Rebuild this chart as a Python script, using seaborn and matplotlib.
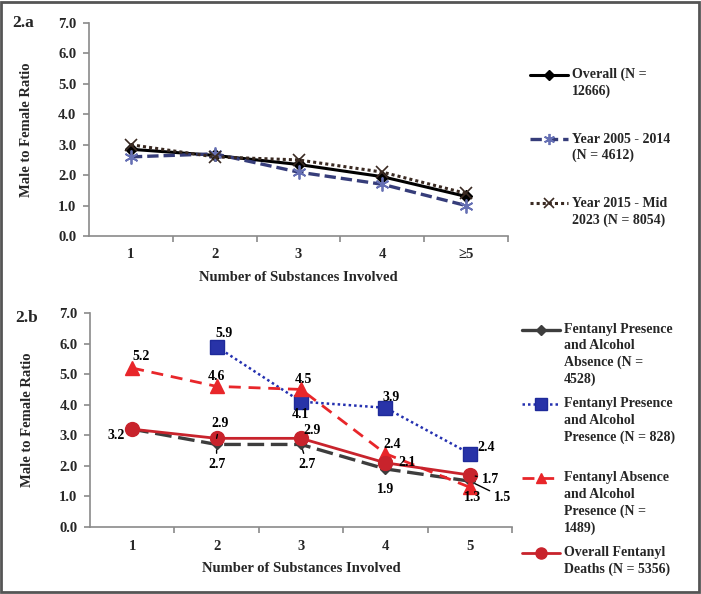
import matplotlib
matplotlib.use("Agg")
import matplotlib.pyplot as plt
import seaborn as sns
import numpy as np
import pandas as pd
from matplotlib.legend_handler import HandlerLine2D

sns.set_theme(style="white")
plt.rcParams['font.family'] = ['Liberation Serif', 'DejaVu Serif']
plt.rcParams['font.weight'] = 'bold'
plt.rcParams['axes.labelweight'] = 'bold'

# ---------------- data ----------------
top_categories = ["1", "2", "3", "4", "\u22655"]
bottom_categories = ["1", "2", "3", "4", "5"]

overall = [2.85, 2.65, 2.35, 1.95, 1.3]
years_2005_2014 = [2.6, 2.7, 2.1, 1.7, 1.0]
years_2015_2023 = [3.0, 2.6, 2.5, 2.1, 1.4]

fent_pres_alc_abs = [3.2, 2.7, 2.7, 1.9, 1.5]
fent_pres_alc_pres = [np.nan, 5.9, 4.1, 3.9, 2.4]
fent_abs_alc_pres = [5.2, 4.6, 4.5, 2.4, 1.3]
overall_fentanyl = [3.2, 2.9, 2.9, 2.1, 1.7]

top_labels = ["Overall (N =\n12666)",
              "Year 2005 - 2014\n(N = 4612)",
              "Year 2015 - Mid\n2023 (N = 8054)"]
bottom_labels = ["Fentanyl Presence\nand Alcohol\nAbsence (N =\n4528)",
                 "Fentanyl Presence\nand Alcohol\nPresence (N = 828)\n",
                 "Fentanyl Absence\nand Alcohol\nPresence (N =\n1489)",
                 "Overall Fentanyl\nDeaths (N = 5356)"]
y_ticks = [0, 1, 2, 3, 4, 5, 6, 7]

W, H = 701, 594
fig = plt.figure(figsize=(W / 100, H / 100), dpi=100)
fig.patch.set_facecolor("white")


def px_axes(left, top, right, bottom):
    return fig.add_axes([left / W, 1 - bottom / H, (right - left) / W, (bottom - top) / H])


ax1 = px_axes(89, 23, 508, 236)
ax2 = px_axes(90, 313, 512, 527)


def line(ax, vals, label, color, ls, lw, marker, ms, mec=None, mew=1.0, mfc=None):
    pos = np.arange(len(vals))
    df = pd.DataFrame({"pos": pos, "val": vals}).dropna()
    sns.lineplot(data=df, x="pos", y="val", ax=ax, color=color, linestyle=ls, lw=lw,
                 marker=marker, markersize=ms, markeredgecolor=mec or color,
                 markerfacecolor=mfc or color, markeredgewidth=mew,
                 estimator=None, errorbar=None, label=label, legend=False, zorder=3)


# top panel
line(ax1, overall, top_labels[0], "black", "-", 2.2, "D", 6.5)
line(ax1, years_2005_2014, top_labels[1], "#363d7a", (0, (3.4, 1.5)), 2.4, (6, 2, 0), 10,
     mec="#6670b4", mew=1.3)
line(ax1, years_2015_2023, top_labels[2], "#3a2a22", (0, (1, 1)), 2.2, "x", 8, mew=1.2)

# bottom panel
line(ax2, fent_pres_alc_abs, bottom_labels[0], "#3d3d3d", (0, (5, 2)), 2.4, "D", 5)
line(ax2, fent_pres_alc_pres, bottom_labels[1], "#2430b0", (0, (1, 1.2)), 1.8, "s", 10,
     mec="#1e2a9a", mfc="#2833a8")
line(ax2, fent_abs_alc_pres, bottom_labels[2], "#e8262a", (0, (4.3, 2.8)), 2.0, "^", 10)
line(ax2, overall_fentanyl, bottom_labels[3], "#c8232c", "-", 2.0, "o", 10)

GRAY = "#8a8a8a"
for ax, cats in ((ax1, top_categories), (ax2, bottom_categories)):
    ax.set_xlim(-0.5, len(cats) - 0.5)
    ax.set_ylim(0, 7)
    ax.set_yticks(y_ticks)
    ax.set_yticklabels([f"{v:.1f}" for v in y_ticks])
    ax.set_xticks(np.arange(len(cats)) + 0.5)
    ax.set_xticklabels([])
    ax.set_xticks(np.arange(len(cats)), minor=True)
    ax.set_xticklabels(cats, minor=True)
    for s in ("top", "right"):
        ax.spines[s].set_visible(False)
    for s in ("left", "bottom"):
        ax.spines[s].set_color(GRAY)
        ax.spines[s].set_linewidth(1.2)
    ax.tick_params(axis="y", which="major", direction="out", length=4, width=1.2,
                   color=GRAY, left=True, pad=5, labelsize=10.5)
    ax.tick_params(axis="x", which="major", direction="out", length=4, width=1.2,
                   color=GRAY, bottom=True)
    ax.tick_params(axis="x", which="minor", length=0, pad=9, labelsize=10.5)
    for t in ax.get_yticklabels() + ax.get_xticklabels(minor=True):
        t.set_fontweight("bold")
    ax.set_ylabel("Male to Female Ratio", fontsize=10.5, fontweight="bold", labelpad=18)
    ax.set_xlabel("Number of Substances Involved", fontsize=10.5, fontweight="bold", labelpad=7)
    ax.grid(False)
    ax.set_facecolor("white")


class TopAlignHandler(HandlerLine2D):
    def __init__(self, shift, marker_size, solid=False, **kw):
        super().__init__(**kw)
        self.shift = shift
        self.marker_size = marker_size
        self.solid = solid

    def create_artists(self, legend, orig_handle, xdescent, ydescent, width, height, fontsize, trans):
        arts = super().create_artists(legend, orig_handle, xdescent, ydescent, width, height,
                                      fontsize, trans)
        for a in arts:
            a.set_ydata(np.asarray(a.get_ydata()) + self.shift)
            a.set_markersize(self.marker_size)
            if self.solid:
                a.set_linestyle("-")
        return arts


LS = 12.0  # line spacing in points for legend text


def make_legend(ax, labels, sizes, solids, x, y, labelspacing):
    handles, labs = ax.get_legend_handles_labels()
    hm = {}
    for h, lab, ms, so in zip(handles, labs, sizes, solids):
        n = lab.count("\n") + 1
        hm[h] = TopAlignHandler((n - 1) / 2 * LS, ms, so)
    leg = ax.legend(handles, labs, handler_map=hm, loc="upper left",
                    bbox_to_anchor=(x / W, 1 - y / H), bbox_transform=fig.transFigure,
                    frameon=False, borderpad=0, borderaxespad=0, handlelength=2.75,
                    handletextpad=0.25, labelspacing=labelspacing,
                    prop={"family": "Liberation Serif", "weight": "bold", "size": 10})
    for t in leg.get_texts():
        t.set_linespacing(1.34)
    return leg


make_legend(ax1, top_labels, [5, 8, 7], [False, False, False], 530, 68, 2.45)
make_legend(ax2, bottom_labels, [5, 8, 7, 8], [True, False, False, False], 522, 323, 0.8)

# value labels for the bottom panel
lead = dict(arrowstyle="-", color="black", lw=1.0, shrinkA=1, shrinkB=4)
ann = [
    (overall_fentanyl, 0, -7, -6, "right", None),
    (fent_abs_alc_pres, 0, 9, 12, "center", None),
    (fent_abs_alc_pres, 1, 0, 10, "center", None),
    (fent_pres_alc_pres, 1, 7, 13, "center", None),
    (fent_pres_alc_pres, 2, -1, -13, "center", None),
    (fent_abs_alc_pres, 2, 2, 10, "center", None),
    (overall_fentanyl, 1, 3, 15, "center", lead),
    (fent_pres_alc_abs, 1, 0, -20, "center", lead),
    (overall_fentanyl, 2, 11, 8, "center", None),
    (fent_pres_alc_abs, 2, 6, -20, "center", lead),
    (fent_pres_alc_pres, 3, 6, 10, "center", None),
    (fent_pres_alc_pres, 4, 8, 6, "left", None),
    (fent_abs_alc_pres, 3, 7, 9, "center", None),
    (overall_fentanyl, 3, 13, 0, "left", None),
    (fent_pres_alc_abs, 3, 0, -21, "center", None),
    (overall_fentanyl, 4, 12, -4, "left", lead),
    (fent_abs_alc_pres, 4, 3, -10, "center", None),
    (fent_pres_alc_abs, 4, 33, -16, "center", lead),
]
for vals, i, dx, dy, ha, ap in ann:
    ax2.annotate(f"{vals[i]:.1f}", xy=(i, vals[i]), xytext=(dx, dy), textcoords="offset pixels",
                 ha=ha, va="center", fontsize=10, fontweight="bold", color="black",
                 arrowprops=ap, zorder=5)

fig.text(12 / W, 1 - 23 / H, "2.a", fontsize=12.5, fontweight="bold", va="center", ha="left")
fig.text(15 / W, 1 - 318 / H, "2.b", fontsize=12.5, fontweight="bold", va="center", ha="left")

fig.add_artist(plt.Rectangle((0.002, 0.003), 0.995, 0.994, transform=fig.transFigure,
                             fill=False, ec="#555555", lw=2))

fig.savefig("out.png", dpi=100, facecolor="white")
